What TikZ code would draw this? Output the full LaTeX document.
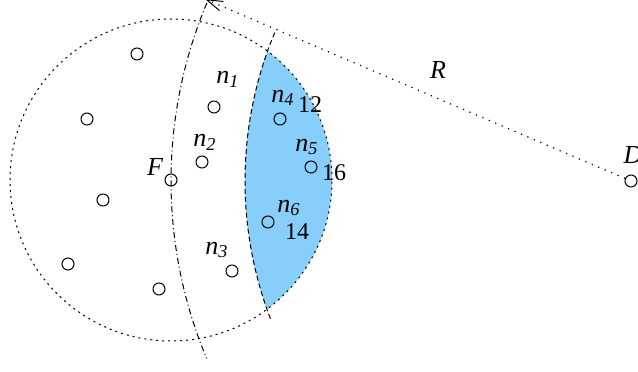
\documentclass[tikz,border=0pt]{standalone}
\usepackage{fontspec}
\setmainfont{Liberation Serif}
\usepackage{tikz}
\usetikzlibrary{arrows.meta,calc}
\definecolor{regionblue}{RGB}{135,206,250}
\newcommand{\nlab}[1]{\itshape n\textsubscript{#1}}
\tikzset{
  site/.style={
    circle,
    draw=black,
    line width=0.5pt,
    minimum size=6pt,
    inner sep=0pt
  },
  lbl/.style={
    inner sep=0pt,
    font=\fontsize{12}{14}\selectfont
  },
  letterlbl/.style={
    inner sep=0pt,
    font=\fontsize{13}{15}\selectfont
  },
  rangecircle/.style={line width=0.5pt,dash pattern=on 1pt off 2pt},
  outerarc/.style={line width=0.5pt,dash pattern=on 3pt off 1.5pt on 0.5pt off 1.5pt},
  innerarc/.style={line width=0.5pt,dash pattern=on 2.5pt off 1.5pt},
  rline/.style={line width=0.6pt,dash pattern=on 0.6pt off 2.9pt,
    -{Straight Barb[length=8pt,width=5pt,line width=0.5pt]}}
}

\begin{document}
\begin{tikzpicture}[x=0.5pt,y=0.5pt]
  \useasboundingbox (0,0) rectangle (638,371);
  \clip (0,0) rectangle (638,371);
  \coordinate (Fc) at (171,191);
  \coordinate (Dc) at (631,190);
  \begin{scope}
    \clip (Dc) circle (386);
    \fill[regionblue] (Fc) circle (161);
  \end{scope}
  \draw[rangecircle] (Fc) circle (161);
  \draw[outerarc] ($(Dc)+(154:460)$) arc[start angle=154,end angle=202.7,radius=460];
  \draw[innerarc] ($(Dc)+(157.4:386)$) arc[start angle=157.4,end angle=201.1,radius=386];

  \node[site] (F) at (Fc) {};
  \node[site] (D) at (Dc) {};
  \node[site] (p1) at (137,317) {};
  \node[site] (p2) at (87,252) {};
  \node[site] (p3) at (103,171) {};
  \node[site] (p4) at (68,107) {};
  \node[site] (p5) at (159,82) {};
  \node[site] (n1) at (214,264) {};
  \node[site] (n2) at (202,209) {};
  \node[site] (n3) at (232,100) {};
  \node[site] (n4) at (280,252) {};
  \node[site] (n5) at (311,204) {};
  \node[site] (n6) at (268,149) {};

  \coordinate (tip) at ($(Dc)+(156.87:463)$);
  \draw[rline] (D) -- (tip);

  \node[letterlbl] (labF) at (155,204) {\itshape F};
  \node[letterlbl] (labD) at (633,216) {\itshape D};
  \node[letterlbl] (labR) at (438,301) {\itshape R};
  \node[letterlbl] (lab1) at (228,292) {\nlab{1}};
  \node[letterlbl] (lab2) at (205,229) {\nlab{2}};
  \node[letterlbl] (lab3) at (217,121) {\nlab{3}};
  \node[letterlbl] (lab4) at (283,273) {\nlab{4}};
  \node[letterlbl] (lab5) at (307,224) {\nlab{5}};
  \node[letterlbl] (lab6) at (289,163) {\nlab{6}};
  \node[lbl] (val4) at (310,266) {12};
  \node[lbl] (val5) at (334,198) {16};
  \node[lbl] (val6) at (297,139) {14};
\end{tikzpicture}
\end{document}
